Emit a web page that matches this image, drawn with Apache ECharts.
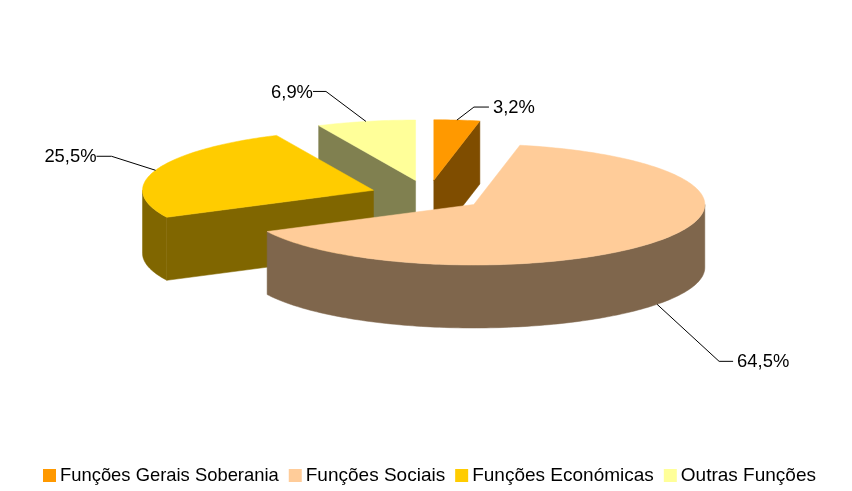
<!DOCTYPE html>
<html>
<head>
<meta charset="utf-8">
<style>html,body{margin:0;padding:0;background:#fff}#c{width:852px;height:491px}</style>
<script src="https://cdn.jsdelivr.net/npm/echarts@6/dist/echarts.min.js"></script>
</head>
<body>
<div id="c"></div>
<script>
// Data
const categories = ['Funções Gerais Soberania', 'Funções Sociais', 'Funções Económicas', 'Outras Funções'];
const shares = [3.2, 64.5, 25.5, 6.9];

// Styles
const topColors = ['#FF9900', '#FFCC99', '#FFCC00', '#FFFF99'];
const sideColors = ['#7F4D00', '#7F664C', '#806600', '#808050'];
const paintOrder = [2, 4, 3, 1];           // z of each slice (back to front)
const legendFontSizes = [18.4, 19, 19, 19];

// Projection of the tilted pie
const CX = 428, CY = 195.3, RX = 231, RY = 60.5, DEPTH = 63, EXPLODE = 0.25;
const FONT_FAMILY = '"Liberation Sans", Arial, sans-serif';
const FONT = '18.4px ' + FONT_FAMILY;

// Leader line: elbow and text anchor, relative to the slice rim point
const leaderLayout = [
  { elbow: [17, -13], end: [32, -13], align: 'left' },
  { elbow: [62, 57], end: [76, 57], align: 'left' },
  { elbow: [-44, -14], end: [-59, -14], align: 'right' },
  { elbow: [-40, -30], end: [-53, -30], align: 'right' }
];

const total = shares.reduce((a, b) => a + b, 0);
const starts = [];
shares.reduce((acc, v, i) => { starts[i] = acc; return acc + v; }, 0);
const RAD = Math.PI * 2;

function renderSlice(i) {
  const t0 = starts[i] / total * RAD;
  const t1 = (starts[i] + shares[i]) / total * RAD;
  const mid = (t0 + t1) / 2;
  const ax = CX + EXPLODE * RX * Math.sin(mid);
  const ay = CY - EXPLODE * RY * Math.cos(mid);
  const rim = (t, h) => [ax + RX * Math.sin(t), ay - RY * Math.cos(t) + (h || 0)];
  const arc = (a, b, h) => {
    const n = Math.max(2, Math.ceil((b - a) / 0.02));
    const out = [];
    for (let k = 0; k <= n; k++) out.push(rim(a + (b - a) * k / n, h));
    return out;
  };
  const side = sideColors[i];
  const children = [];
  const poly = (points, fill) => children.push({
    type: 'polygon', shape: { points },
    style: { fill, stroke: fill, lineWidth: 0.5 }
  });

  if (Math.sin(t0) < 0) poly([[ax, ay], rim(t0), rim(t0, DEPTH), [ax, ay + DEPTH]], side);
  if (Math.sin(t1) > 0) poly([[ax, ay], rim(t1), rim(t1, DEPTH), [ax, ay + DEPTH]], side);
  const w0 = Math.max(t0, Math.PI / 2), w1 = Math.min(t1, Math.PI * 1.5);
  if (w1 > w0) poly(arc(w0, w1, 0).concat(arc(w0, w1, DEPTH).reverse()), side);
  poly([[ax, ay]].concat(arc(t0, t1, 0)), topColors[i]);

  // Leader line and label
  const onFront = Math.cos(mid) < 0;
  const p = rim(mid, onFront ? DEPTH : 0);
  const l = leaderLayout[i];
  const elbow = [p[0] + l.elbow[0], p[1] + l.elbow[1]];
  const end = [p[0] + l.end[0], p[1] + l.end[1]];
  children.push({
    type: 'polyline', shape: { points: [p, elbow, end] },
    style: { stroke: '#000', lineWidth: 1, fill: null }
  });
  children.push({
    type: 'text',
    style: {
      text: shares[i].toFixed(1).replace('.', ',') + '%',
      x: end[0] + (l.align === 'left' ? 4 : 0),
      y: end[1] + 1, align: l.align, verticalAlign: 'middle',
      font: FONT, fill: '#000'
    }
  });
  return { type: 'group', children };
}

const chart = echarts.init(document.getElementById('c'), null, { renderer: 'canvas' });
chart.setOption({
  animation: false,
  backgroundColor: '#fff',
  tooltip: { show: false },
  legend: {
    data: categories.map((name, i) => ({
      name,
      textStyle: { fontSize: legendFontSizes[i] }
    })),
    left: 43, top: 466, padding: 0,
    itemWidth: 13, itemHeight: 13, itemGap: 10,
    icon: 'rect',
    selectedMode: false,
    textStyle: { fontFamily: FONT_FAMILY, color: '#000', padding: [0, 0, 0, -1] }
  },
  series: categories.map((name, i) => ({
    type: 'custom',
    name,
    coordinateSystem: 'none',
    z: paintOrder[i],
    silent: true,
    itemStyle: { color: topColors[i] },
    data: [shares[i]],
    renderItem: () => renderSlice(i)
  }))
});
</script>
</body>
</html>
